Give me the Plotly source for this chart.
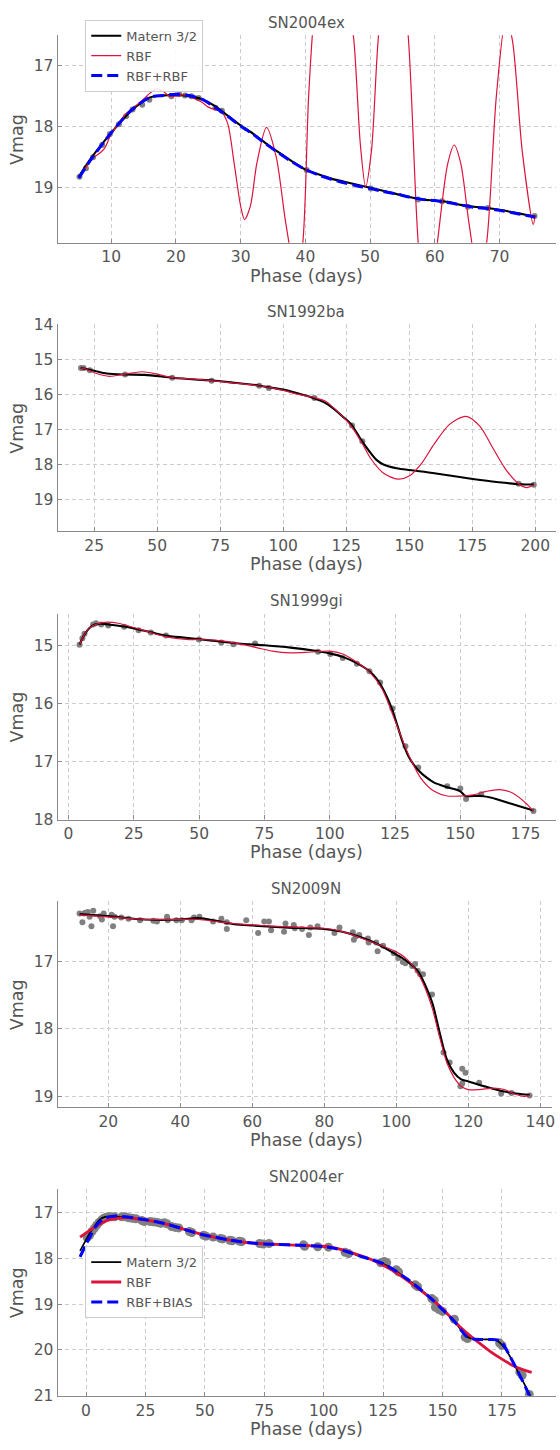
import plotly.graph_objects as go

# ---------------- DATA ----------------
titles = ["SN2004ex", "SN1992ba", "SN1999gi", "SN2009N", "SN2004er"]

# Panel 1: SN2004ex
p1_obs_x = [5.1, 6.1, 7.2, 8.6, 9.8, 11.2, 12.3, 13.3, 14.8, 15.9, 19.3, 20.5, 21.4, 22.4, 23.5, 26.1, 27.1, 40.2, 50.1, 57.4, 61.1, 65.1, 68.2, 75.4]
p1_obs_y = [18.82, 18.68, 18.5, 18.3, 18.12, 17.96, 17.83, 17.72, 17.64, 17.56, 17.5, 17.47, 17.49, 17.5, 17.53, 17.69, 17.74, 18.71, 19.01, 19.19, 19.22, 19.31, 19.33, 19.46]
p1_matern_x = [5, 7, 10, 13, 16, 18, 20, 22, 24, 26, 28, 30, 32, 34, 36, 38, 40, 42, 44, 46, 48, 50, 52, 54, 56, 58, 60, 62, 64, 66, 68, 70, 72, 74, 75.5]
p1_matern_y = [18.82, 18.5, 18.1, 17.75, 17.52, 17.49, 17.48, 17.5, 17.55, 17.66, 17.82, 17.98, 18.12, 18.28, 18.43, 18.57, 18.7, 18.78, 18.85, 18.9, 18.95, 19.0, 19.05, 19.1, 19.15, 19.19, 19.21, 19.23, 19.28, 19.31, 19.33, 19.36, 19.4, 19.44, 19.47]
p1_rbf_x = [5, 6, 7, 8, 9, 10, 11, 12, 13, 14, 15, 16, 17, 18, 19, 20, 21, 22, 23, 24, 25, 26, 27, 28, 29, 30, 30.6, 31.5, 32.5, 34, 35.5, 37, 38.5, 39.5, 40.5, 41.5, 44, 46.5, 47.5, 48.5, 49.3, 50.2, 51.3, 53.5, 55.8, 57.5, 59, 60.5, 62, 63, 64, 65.3, 66.8, 68, 69.5, 71, 72, 73.5, 75.2, 75.5]
p1_rbf_y = [18.82, 18.68, 18.52, 18.45, 18.35, 18.12, 17.97, 17.82, 17.72, 17.64, 17.55, 17.45, 17.38, 17.42, 17.5, 17.5, 17.48, 17.5, 17.55, 17.6, 17.68, 17.72, 17.75, 17.95, 18.6, 19.3, 19.52, 19.3, 18.6, 18.01, 18.5, 19.6, 20.4, 20.0, 17.5, 16.0, 14.5, 15.8, 16.6, 18.3, 18.98, 18.4, 16.5, 14.5, 16.4, 20.0, 21.2, 19.8, 18.6, 18.3, 18.6, 19.6, 20.5, 19.9, 17.5, 16.2, 16.6, 18.4, 19.6, 19.45]
p1_blue_x = [5, 7, 10, 13, 16, 18, 20, 22, 24, 26, 28, 30, 32, 34, 36, 38, 40, 42, 44, 46, 48, 50, 52, 54, 56, 58, 60, 62, 64, 66, 68, 70, 72, 74, 75.5]
p1_blue_y = [18.84, 18.52, 18.1, 17.74, 17.52, 17.49, 17.47, 17.49, 17.55, 17.68, 17.83, 17.99, 18.13, 18.29, 18.44, 18.58, 18.7, 18.79, 18.86, 18.92, 18.97, 19.01, 19.06, 19.1, 19.15, 19.19, 19.21, 19.24, 19.28, 19.32, 19.34, 19.37, 19.41, 19.45, 19.48]

# Panel 2: SN1992ba
p2_obs_x = [19.8, 20.8, 23.3, 37.3, 56.0, 71.6, 90.5, 94.3, 112.4, 127.3, 131.4, 193.4, 199.4]
p2_obs_y = [15.24, 15.24, 15.31, 15.43, 15.52, 15.61, 15.75, 15.81, 16.1, 16.88, 17.33, 18.54, 18.57]
p2_matern_x = [19.6, 25, 30, 37, 45, 56, 65, 72, 80, 90, 95, 100, 105, 112, 117, 120, 124, 127, 131, 134, 137, 140, 145, 150, 155, 160, 170, 180, 190, 196, 199.5]
p2_matern_y = [15.24, 15.32, 15.4, 15.43, 15.44, 15.52, 15.57, 15.6, 15.66, 15.74, 15.8, 15.86, 15.95, 16.1, 16.25, 16.4, 16.65, 16.85, 17.3, 17.6, 17.86, 18.0, 18.1, 18.15, 18.19, 18.24, 18.35, 18.45, 18.53, 18.56, 18.56]
p2_rbf_x = [19.6, 22, 26, 31, 37, 44, 50, 56, 65, 72, 80, 90, 95, 100, 105, 112, 117, 120, 124, 127, 131, 135, 140, 145.5, 150, 155, 160, 166, 172.5, 178, 183, 188, 193, 196.5, 199.5]
p2_rbf_y = [15.24, 15.28, 15.4, 15.48, 15.42, 15.35, 15.42, 15.52, 15.56, 15.61, 15.67, 15.75, 15.8, 15.88, 15.98, 16.08, 16.2, 16.38, 16.65, 16.9, 17.35, 17.85, 18.25, 18.41, 18.32, 17.95, 17.4, 16.85, 16.62, 16.9, 17.5, 18.1, 18.52, 18.65, 18.57]

# Panel 3: SN1999gi
p3_obs_x = [4.2, 5.3, 6.1, 9.4, 10.5, 12.5, 15.2, 21.3, 26.8, 31.5, 37.3, 49.9, 58.5, 63.1, 71.4, 95.5, 100.2, 105.0, 110.4, 115.2, 119.3, 124.0, 129.0, 133.9, 145.0, 150.0, 152.2, 158.0, 178.0]
p3_obs_y = [14.99, 14.88, 14.8, 14.64, 14.62, 14.64, 14.66, 14.68, 14.74, 14.78, 14.83, 14.9, 14.95, 14.98, 14.97, 15.11, 15.15, 15.22, 15.32, 15.45, 15.64, 16.09, 16.74, 17.11, 17.43, 17.47, 17.65, 17.57, 17.86]
p3_matern_x = [4.2, 6, 8, 10, 13, 17, 22, 27, 32, 37, 45, 55, 65, 75, 85, 95, 100, 105, 110, 115, 118, 120, 122, 124, 126, 128, 130, 132, 134, 137, 140, 145, 150, 152, 155, 158, 162, 167, 172, 178]
p3_matern_y = [14.99, 14.82, 14.7, 14.64, 14.63, 14.65, 14.68, 14.73, 14.78, 14.83, 14.87, 14.92, 14.97, 15.0, 15.04, 15.1, 15.14, 15.2, 15.3, 15.44, 15.58, 15.72, 15.9, 16.12, 16.4, 16.68, 16.9, 17.05, 17.16, 17.28, 17.37, 17.45, 17.52, 17.6, 17.6, 17.6, 17.63, 17.7, 17.77, 17.85]
p3_rbf_x = [4.2, 6, 8, 11, 15, 19, 24, 30, 37, 45, 50, 58, 65, 72, 78, 85, 92, 100, 105, 110, 115, 120, 125, 130, 135, 140, 145, 150, 155, 160, 165, 170, 175, 178]
p3_rbf_y = [14.99, 14.82, 14.7, 14.63, 14.6, 14.62, 14.68, 14.76, 14.85, 14.9, 14.9, 14.92, 14.97, 15.04, 15.1, 15.13, 15.12, 15.1, 15.15, 15.28, 15.45, 15.75, 16.3, 16.87, 17.3, 17.52, 17.6, 17.6, 17.58, 17.52, 17.49, 17.55, 17.72, 17.86]

# Panel 4: SN2009N
p4_obs_x = [12.0, 12.8, 13.3, 13.6, 14.3, 14.8, 15.3, 15.8, 17.7, 18.2, 18.7, 20.9, 21.3, 21.7, 23.6, 25.6, 28.8, 32.5, 33.5, 36.3, 36.5, 38.9, 40.4, 43.1, 43.8, 45.3, 49.1, 51.4, 52.9, 52.9, 58.3, 61.6, 63.3, 64.6, 65.2, 68.8, 69.2, 71.5, 71.8, 73.8, 75.7, 76.1, 78.1, 82.8, 84.2, 87.9, 88.2, 88.7, 89.7, 92.1, 92.3, 94.4, 94.8, 96.3, 99.3, 100.5, 101.8, 102.5, 104.4, 105.2, 105.9, 106.6, 107.4, 109.9, 113.1, 114.8, 117.8, 118.3, 118.3, 119.2, 123.0, 129.1, 132.0, 137.0]
p4_obs_y = [16.29, 16.42, 16.29, 16.28, 16.27, 16.34, 16.48, 16.25, 16.33, 16.38, 16.29, 16.31, 16.48, 16.34, 16.35, 16.37, 16.39, 16.4, 16.41, 16.34, 16.39, 16.39, 16.39, 16.39, 16.35, 16.34, 16.41, 16.37, 16.42, 16.52, 16.39, 16.58, 16.41, 16.41, 16.54, 16.56, 16.44, 16.46, 16.51, 16.52, 16.61, 16.5, 16.48, 16.58, 16.5, 16.57, 16.68, 16.63, 16.61, 16.66, 16.72, 16.72, 16.85, 16.77, 16.88, 16.95, 17.01, 17.03, 17.07, 17.04, 17.14, 17.19, 17.19, 17.49, 18.35, 18.5, 18.85, 18.59, 18.81, 18.65, 18.8, 18.96, 18.95, 18.99]
p4_matern_x = [12, 20, 30, 40, 45, 50, 55, 60, 70, 80, 85, 90, 95, 100, 103, 106, 108, 110, 112, 114, 116, 118, 120, 125, 130, 135, 137]
p4_matern_y = [16.3, 16.33, 16.38, 16.38, 16.36, 16.4, 16.45, 16.47, 16.5, 16.52, 16.56, 16.64, 16.75, 16.9, 17.0, 17.15, 17.35, 17.62, 18.05, 18.45, 18.65, 18.75, 18.78, 18.86, 18.93, 18.97, 18.98]
p4_rbf_x = [12, 20, 30, 40, 45, 50, 55, 60, 70, 80, 85, 90, 95, 100, 103, 106, 108, 110, 112, 114, 116, 118, 120, 123, 127, 130, 133, 135.5, 137]
p4_rbf_y = [16.31, 16.34, 16.38, 16.38, 16.38, 16.41, 16.44, 16.46, 16.49, 16.51, 16.56, 16.65, 16.75, 16.86, 16.97, 17.18, 17.4, 17.7, 18.12, 18.5, 18.72, 18.85, 18.9, 18.9, 18.88, 18.9, 18.97, 19.0, 18.99]

# Panel 5: SN2004er
p5_obs_x = [0.5, 1.5, 2.5, 3.5, 4.5, 5.5, 6.5, 7.5, 8.5, 9.5, 10.5, 12, 15, 16.5, 18, 19.5, 21, 23.5, 24.5, 27, 28.5, 30, 31.5, 33, 34, 36, 37.5, 39, 43.5, 44.5, 49.5, 50.5, 53.5, 56.5, 57.5, 60.5, 61.5, 64.5, 65.5, 73, 74.5, 77, 91.5, 92, 97.5, 102, 109, 110.5, 124, 125.5, 126.5, 130.5, 131.5, 138.5, 139.5, 145.5, 146.5, 147, 148.5, 150, 155, 159.5, 160.5, 174, 175, 182.5, 183.5, 186.5]
p5_obs_y = [17.55, 17.5, 17.42, 17.35, 17.28, 17.22, 17.17, 17.13, 17.11, 17.1, 17.1, 17.1, 17.1, 17.1, 17.12, 17.13, 17.14, 17.18, 17.2, 17.2, 17.21, 17.22, 17.24, 17.23, 17.25, 17.31, 17.33, 17.34, 17.42, 17.44, 17.5, 17.52, 17.54, 17.57, 17.58, 17.61, 17.62, 17.63, 17.64, 17.68, 17.69, 17.68, 17.71, 17.74, 17.75, 17.76, 17.87, 17.9, 18.1, 18.07, 18.1, 18.25, 18.3, 18.58, 18.62, 18.88, 18.92, 19.07, 19.12, 19.16, 19.33, 19.72, 19.75, 19.85, 19.9, 20.48, 20.55, 20.97]
p5_matern_x = [-2.5, 0, 2, 4, 6, 8, 10, 15, 20, 25, 30, 35, 40, 45, 50, 55, 60, 65, 70, 75, 80, 90, 100, 105, 110, 115, 120, 125, 130, 135, 140, 145, 150, 155, 158, 160, 163, 167, 170, 173, 176, 179, 182, 185, 187.5]
p5_matern_y = [17.84, 17.6, 17.42, 17.27, 17.15, 17.1, 17.09, 17.1, 17.13, 17.17, 17.21, 17.27, 17.35, 17.43, 17.5, 17.55, 17.6, 17.64, 17.67, 17.69, 17.7, 17.72, 17.75, 17.79, 17.86, 17.95, 18.03, 18.12, 18.27, 18.45, 18.65, 18.87, 19.12, 19.38, 19.58, 19.7, 19.76, 19.77, 19.77, 19.8, 19.95, 20.2, 20.5, 20.8, 21.05]
p5_rbf_x = [-2.5, 0, 5, 10, 15, 20, 25, 30, 40, 50, 60, 70, 80, 90, 100, 105, 110, 120, 130, 140, 150, 155, 160, 165, 170, 175, 180, 185, 187.5]
p5_rbf_y = [17.54, 17.45, 17.28, 17.16, 17.12, 17.13, 17.17, 17.21, 17.35, 17.5, 17.6, 17.67, 17.7, 17.72, 17.74, 17.78, 17.85, 18.03, 18.3, 18.67, 19.1, 19.38, 19.62, 19.83, 20.03, 20.2, 20.35, 20.45, 20.49]
p5_blue_x = [-2.5, 0, 2, 4, 6, 8, 10, 12.5, 15, 20, 25, 30, 35, 40, 45, 50, 55, 60, 65, 70, 75, 80, 90, 100, 105, 110, 115, 120, 125, 130, 135, 140, 145, 150, 155, 158, 160, 163, 167, 170, 173, 175, 178, 182, 185, 187]
p5_blue_y = [17.97, 17.7, 17.5, 17.32, 17.2, 17.13, 17.1, 17.08, 17.09, 17.12, 17.16, 17.21, 17.27, 17.35, 17.43, 17.5, 17.55, 17.6, 17.64, 17.67, 17.69, 17.7, 17.72, 17.75, 17.79, 17.86, 17.95, 18.03, 18.12, 18.27, 18.45, 18.65, 18.87, 19.12, 19.38, 19.58, 19.7, 19.76, 19.77, 19.77, 19.78, 19.84, 20.1, 20.5, 20.82, 21.05]

x_ranges = [[1.72, 78.7], [10.5, 208.2], [-4.2, 186.6], [5.9, 143.35], [-11.96, 197.7]]
y_ranges = [[19.9, 16.505], [19.89, 14.0], [18.006, 14.455], [19.166, 16.107], [21.0, 16.49]]
x_dticks = [10, 25, 25, 20, 25]
y_dticks = [1, 1, 1, 1, 1]

# ---------------- LAYOUT GEOMETRY (pixels) ----------------
W, H = 560, 1450
ax_left = 57.9
ax_rights = [558.9, 558.9, 558.9, 555.4, 558.9]
panel_tops = [26.7, 319.3, 612.3, 903.3, 1194.7]
panel_bottoms = [236.7, 528.7, 820.7, 1112.3, 1404.3]
title_ys = [14.0, 306.7, 599.0, 890.7, 1182.3]

TXT = "#555555"
FONT = "DejaVu Sans, Verdana, sans-serif"
GREY_PT = "#808080"
BLACK = "#000000"
RED = "#dc143c"
BLUE = "#0000ff"

def py(v):
    return 1 - v / H

def px(v):
    return v / W

fig = go.Figure()

obs = [(p1_obs_x, p1_obs_y), (p2_obs_x, p2_obs_y), (p3_obs_x, p3_obs_y), (p4_obs_x, p4_obs_y), (p5_obs_x, p5_obs_y)]
maternd = [(p1_matern_x, p1_matern_y), (p2_matern_x, p2_matern_y), (p3_matern_x, p3_matern_y), (p4_matern_x, p4_matern_y), (p5_matern_x, p5_matern_y)]
rbfd = [(p1_rbf_x, p1_rbf_y), (p2_rbf_x, p2_rbf_y), (p3_rbf_x, p3_rbf_y), (p4_rbf_x, p4_rbf_y), (p5_rbf_x, p5_rbf_y)]

for i in range(5):
    n = "" if i == 0 else str(i + 1)
    xa, ya = "x" + n, "y" + n
    legname = "legend" if i == 0 else ("legend2" if i == 4 else None)
    msize = 9 if i == 4 else 6
    fig.add_trace(go.Scatter(x=obs[i][0], y=obs[i][1], mode="markers", xaxis=xa, yaxis=ya,
                             marker=dict(color=GREY_PT, size=msize, line=dict(width=0)),
                             showlegend=False, hoverinfo="skip"))
    fig.add_trace(go.Scatter(x=maternd[i][0], y=maternd[i][1], mode="lines", xaxis=xa, yaxis=ya,
                             line=dict(color=BLACK, width=1.7 if i == 4 else 2.1, shape="spline", smoothing=0.8),
                             name="Matern 3/2", showlegend=legname is not None,
                             legend=legname if legname else "legend"))
    fig.add_trace(go.Scatter(x=rbfd[i][0], y=rbfd[i][1], mode="lines", xaxis=xa, yaxis=ya,
                             line=dict(color=RED, width=2.8 if i == 4 else 1.2, shape="spline", smoothing=0.8),
                             name="RBF", showlegend=legname is not None,
                             legend=legname if legname else "legend"))
    if i == 0:
        fig.add_trace(go.Scatter(x=p1_blue_x, y=p1_blue_y, mode="lines", xaxis=xa, yaxis=ya,
                                 line=dict(color=BLUE, width=3, dash="11px,5px", shape="spline", smoothing=0.8),
                                 name="RBF+RBF", legend="legend"))
    if i == 4:
        fig.add_trace(go.Scatter(x=p5_blue_x, y=p5_blue_y, mode="lines", xaxis=xa, yaxis=ya,
                                 line=dict(color=BLUE, width=3, dash="11px,5px", shape="spline", smoothing=0.8),
                                 name="RBF+BIAS", legend="legend2"))

layout = dict(width=W, height=H, margin=dict(l=0, r=0, t=0, b=0),
              paper_bgcolor="white", plot_bgcolor="white",
              font=dict(family=FONT, color=TXT, size=15.5))

annotations = []
for i in range(5):
    n = "" if i == 0 else str(i + 1)
    dom_y = [py(panel_bottoms[i]), py(panel_tops[i])]
    common = dict(showgrid=True, gridcolor="#cccccc", gridwidth=0.8, griddash="4px,3px",
                  showline=True, linecolor="#8a8a8a", linewidth=1.2, mirror=False,
                  zeroline=False, ticks="inside", ticklen=4, tickcolor="#8a8a8a",
                  ticklabeloverflow="allow",
                  tickfont=dict(size=15.5, color=TXT, family=FONT))
    layout["xaxis" + n] = dict(domain=[px(ax_left), px(ax_rights[i])], range=x_ranges[i],
                               anchor="y" + n, tick0=0, dtick=x_dticks[i], **common)
    layout["yaxis" + n] = dict(domain=dom_y, range=y_ranges[i], anchor="x" + n,
                               tick0=0, dtick=y_dticks[i], **common)
    annotations.append(dict(text=titles[i], x=px(308.0), y=py(title_ys[i]),
                            xref="paper", yref="paper", showarrow=False,
                            xanchor="center", yanchor="middle",
                            font=dict(size=15, color=TXT, family=FONT)))
    annotations.append(dict(text="Phase (days)", x=px(308.0), y=py(panel_bottoms[i] + 33.3),
                            xref="paper", yref="paper", showarrow=False,
                            xanchor="center", yanchor="middle",
                            font=dict(size=17.5, color=TXT, family=FONT)))
    annotations.append(dict(text="Vmag", x=px(17), y=py((panel_tops[i] + panel_bottoms[i]) / 2),
                            xref="paper", yref="paper", showarrow=False, textangle=-90,
                            xanchor="center", yanchor="middle",
                            font=dict(size=17.5, color=TXT, family=FONT)))

layout["annotations"] = annotations
leg_common = dict(bgcolor="rgba(255,255,255,0.85)", bordercolor="#cccccc", borderwidth=1,
                  font=dict(size=13, color=TXT, family=FONT), xanchor="left", yanchor="top",
                  itemwidth=30, tracegroupgap=0)
layout["legend"] = dict(x=px(85.7), y=py(11.0), **leg_common)
layout["legend2"] = dict(x=px(85.7), y=py(1252.7), **leg_common)
fig.update_layout(**layout)

fig.write_html("out.html")
